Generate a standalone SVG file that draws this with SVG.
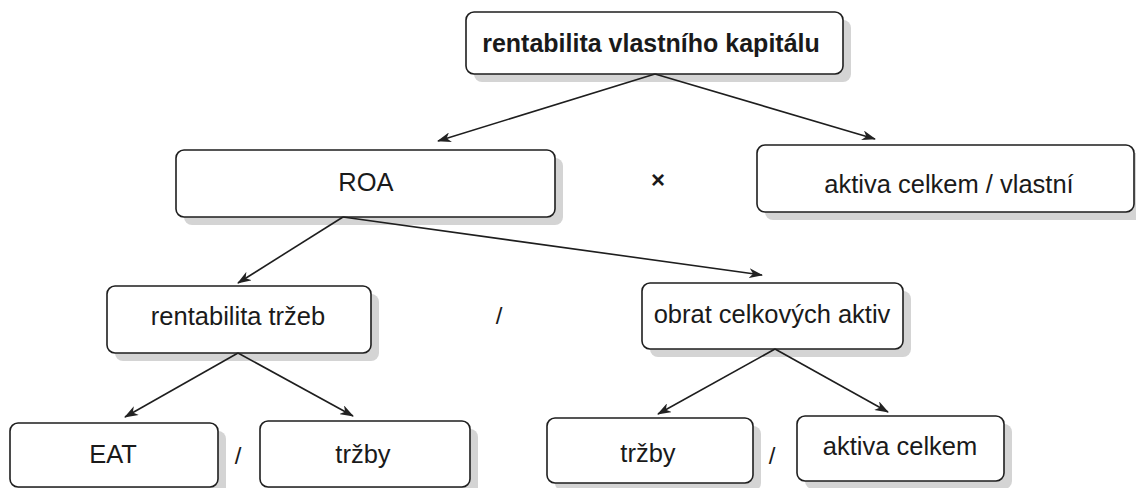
<svg xmlns="http://www.w3.org/2000/svg" width="1136" height="488" viewBox="0 0 1136 488">
<style>
.shadow{fill:#d4d4d4;}
.box{fill:#ffffff;stroke:#1e1e1e;stroke-width:1.6;}
.t{font-family:"Liberation Sans",Arial,sans-serif;font-size:25.5px;fill:#1a1a1a;text-anchor:middle;}
.b{font-weight:bold;font-size:25px;}
.op{font-family:"Liberation Sans",Arial,sans-serif;fill:#1a1a1a;text-anchor:middle;}
.c{fill:none;stroke:#1e1e1e;stroke-width:1.6;}
</style>
<defs>
<marker id="ah" markerWidth="14" markerHeight="10" refX="13" refY="5" orient="auto" markerUnits="userSpaceOnUse">
<path d="M0,0 L14,5 L0,10 L4,5 Z" fill="#222222"/>
</marker>
</defs>
<rect width="1136" height="488" fill="#ffffff"/>
<g id="n_roe">
<rect class="shadow" x="474" y="20" width="377" height="62" rx="8"/>
<rect class="box" x="466" y="12" width="377" height="62" rx="8"/>
<text class="t b" x="651" y="52">rentabilita vlastního kapitálu</text>
</g>
<g id="n_roa">
<rect class="shadow" x="184" y="158" width="379" height="67" rx="8"/>
<rect class="box" x="176" y="150" width="379" height="67" rx="8"/>
<text class="t" x="366" y="191">ROA</text>
</g>
<g id="n_akv">
<rect class="shadow" x="765" y="153" width="378" height="67" rx="8"/>
<rect class="box" x="757" y="145" width="377" height="67" rx="8"/>
<text class="t" x="949" y="193">aktiva celkem / vlastní</text>
</g>
<g id="n_rt">
<rect class="shadow" x="115" y="294" width="264" height="67" rx="8"/>
<rect class="box" x="107" y="286" width="264" height="67" rx="8"/>
<text class="t" x="238" y="325">rentabilita tržeb</text>
</g>
<g id="n_oca">
<rect class="shadow" x="650" y="291" width="261" height="66" rx="8"/>
<rect class="box" x="642" y="283" width="261" height="66" rx="8"/>
<text class="t" x="772" y="323">obrat celkových aktiv</text>
</g>
<g id="n_eat">
<rect class="shadow" x="18" y="431" width="208" height="64" rx="8"/>
<rect class="box" x="10" y="423" width="208" height="64" rx="8"/>
<text class="t" x="113" y="463">EAT</text>
</g>
<g id="n_trzby1">
<rect class="shadow" x="268" y="429" width="210" height="66" rx="8"/>
<rect class="box" x="260" y="421" width="210" height="66" rx="8"/>
<text class="t" x="363" y="463">tržby</text>
</g>
<g id="n_trzby2">
<rect class="shadow" x="555" y="426" width="206" height="65" rx="8"/>
<rect class="box" x="547" y="418" width="206" height="65" rx="8"/>
<text class="t" x="648" y="462">tržby</text>
</g>
<g id="n_ac">
<rect class="shadow" x="805" y="424" width="207" height="65" rx="8"/>
<rect class="box" x="797" y="416" width="207" height="65" rx="8"/>
<text class="t" x="900" y="455">aktiva celkem</text>
</g>
<g id="connectors">
<line class="c" x1="655" y1="74" x2="438" y2="141" marker-end="url(#ah)"/>
<line class="c" x1="655" y1="74" x2="875" y2="139" marker-end="url(#ah)"/>
<line class="c" x1="343" y1="217" x2="238" y2="283" marker-end="url(#ah)"/>
<line class="c" x1="343" y1="217" x2="762" y2="275" marker-end="url(#ah)"/>
<line class="c" x1="238" y1="353" x2="125" y2="417" marker-end="url(#ah)"/>
<line class="c" x1="238" y1="353" x2="353" y2="416" marker-end="url(#ah)"/>
<line class="c" x1="775" y1="349" x2="658" y2="414" marker-end="url(#ah)"/>
<line class="c" x1="775" y1="349" x2="888" y2="412" marker-end="url(#ah)"/>
</g>
<g id="operators">
<text class="op" x="658" y="188" font-size="24" font-weight="bold">×</text>
<text class="op" x="499" y="324" font-size="24">/</text>
<text class="op" x="238" y="464" font-size="24">/</text>
<text class="op" x="772" y="464" font-size="24">/</text>
</g>
</svg>
